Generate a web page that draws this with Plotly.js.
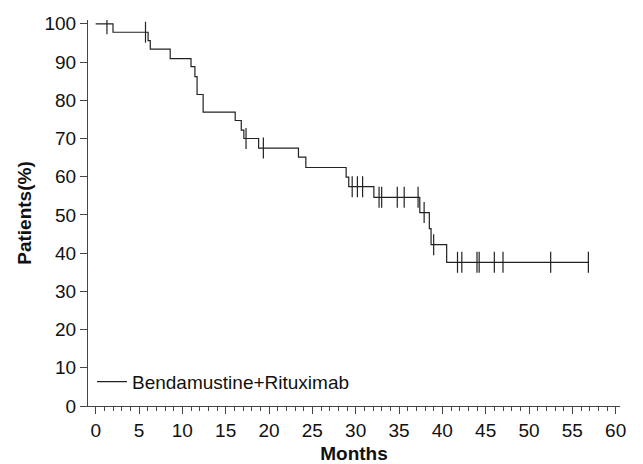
<!DOCTYPE html>
<html>
<head>
<meta charset="utf-8">
<script src="https://cdn.plot.ly/plotly-3.0.1.min.js"></script>
<style>html,body{margin:0;padding:0;background:#fff}#chart{width:643px;height:464px}</style>
</head>
<body>
<div id="chart"></div>
<script>
// Kaplan-Meier step points (months, % patients)
var eventMonths = [0, 2.0, 6.05, 6.3, 8.6, 11.0, 11.45, 11.7, 12.4, 16.1, 16.8, 17.1, 18.8, 23.4, 24.25, 28.9, 29.2, 32.1, 37.4, 38.5, 38.7, 40.5];
var survival = [100, 97.8, 95.6, 93.4, 90.9, 88.8, 86.2, 81.5, 76.9, 74.7, 72.2, 70.0, 67.5, 65.1, 62.4, 59.9, 57.4, 54.6, 50.6, 46.4, 42.2, 37.6];
// Censored observations (months)
var censorMonths = [1.3, 5.75, 17.35, 19.35, 29.6, 30.2, 30.8, 32.7, 33.0, 34.8, 35.6, 37.2, 37.9, 39.0, 41.75, 42.25, 44.0, 44.25, 46.0, 47.0, 52.5, 56.85];
var seriesName = 'Bendamustine+Rituximab';
var xTicks = [0, 5, 10, 15, 20, 25, 30, 35, 40, 45, 50, 55, 60];
var yTicks = [0, 10, 20, 30, 40, 50, 60, 70, 80, 90, 100];

function survAt(t) {
  var s = survival[0];
  for (var i = 0; i < eventMonths.length; i++) { if (eventMonths[i] <= t) s = survival[i]; }
  return s;
}
var lastT = censorMonths[censorMonths.length - 1];
var lineX = eventMonths.concat([lastT]);
var lineY = survival.concat([survAt(lastT)]);
var cY = censorMonths.map(survAt);

var FONT = 'Liberation Sans, Arial, Helvetica, sans-serif';
var FS = 19;
var data = [
  {x: lineX, y: lineY, type: 'scatter', mode: 'lines', line: {shape: 'hv', color: '#222', width: 1.2}, name: seriesName, showlegend: true},
  {x: censorMonths, y: cY, type: 'scatter', mode: 'markers', marker: {symbol: 'line-ns-open', size: 15, color: '#222', line: {color: '#222', width: 1.2}}, showlegend: false, hoverinfo: 'skip'}
];
var layout = {
  width: 643, height: 464,
  margin: {l: 88, r: 23, t: 20, b: 58},
  paper_bgcolor: '#fff', plot_bgcolor: '#fff',
  font: {family: FONT, size: FS, color: '#111'},
  showlegend: true,
  legend: {x: 0.0075, y: 0.063, xanchor: 'left', yanchor: 'middle', bgcolor: 'rgba(0,0,0,0)', borderwidth: 0, itemwidth: 30, font: {family: FONT, size: FS, color: '#111'}},
  xaxis: {
    range: [-0.885, 60.5], tickvals: xTicks, ticktext: xTicks.map(String),
    ticks: 'outside', ticklen: 7, tickwidth: 1, tickcolor: '#444',
    minor: {dtick: 1, tick0: 0, ticks: 'outside', ticklen: 4, tickwidth: 1, tickcolor: '#444'},
    showline: true, linecolor: '#444', linewidth: 1, showgrid: false, zeroline: false,
    tickfont: {family: FONT, size: FS, color: '#111'},
    title: {text: '<b>Months</b>', font: {family: FONT, size: FS, color: '#111'}, standoff: 7}
  },
  yaxis: {
    range: [0, 101], tickvals: yTicks, ticktext: yTicks.map(String),
    ticks: 'outside', ticklen: 7, tickwidth: 1, tickcolor: '#444',
    showline: true, linecolor: '#444', linewidth: 1, showgrid: false, zeroline: false,
    tickfont: {family: FONT, size: FS, color: '#111'},
    title: {text: '<b>Patients(%)</b>', font: {family: FONT, size: FS, color: '#111'}, standoff: 7}
  }
};
Plotly.newPlot('chart', data, layout, {displayModeBar: false, staticPlot: true});
</script>
</body>
</html>
